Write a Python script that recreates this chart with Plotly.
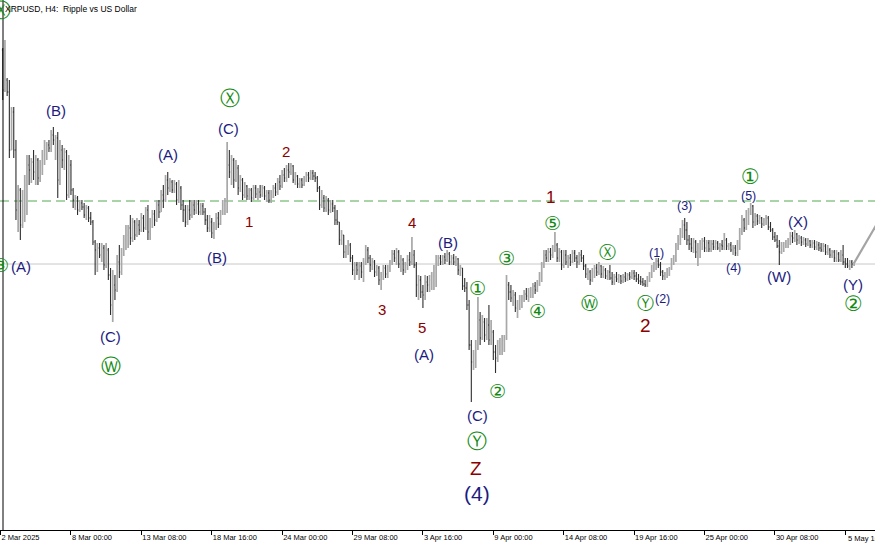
import pandas as pd
import plotly.graph_objects as go

# bar 0 of the H4 chart is 2 Mar 2025 16:00, bars every 4 hours
t0 = pd.Timestamp("2025-03-02 16:00")

opens = [
    3.000, 2.840, 2.880, 2.832, 2.600, 2.752, 2.600, 2.360, 2.440, 2.300,
    2.400, 2.460, 2.540, 2.520, 2.552, 2.512, 2.560, 2.488, 2.540, 2.580,
    2.600, 2.620, 2.608, 2.660, 2.640, 2.648, 2.480, 2.600, 2.560, 2.592,
    2.420, 2.540, 2.440, 2.400, 2.408, 2.360, 2.388, 2.372, 2.340, 2.368,
    2.328, 2.312, 2.232, 2.200, 2.208, 2.180, 2.208, 2.140, 2.200, 2.100,
    1.980, 2.060, 2.040, 2.152, 2.112, 2.192, 2.240, 2.260, 2.288, 2.248,
    2.312, 2.260, 2.300, 2.280, 2.328, 2.288, 2.360, 2.272, 2.312, 2.344,
    2.320, 2.380, 2.352, 2.420, 2.400, 2.480, 2.448, 2.472, 2.440, 2.464,
    2.400, 2.448, 2.380, 2.360, 2.312, 2.360, 2.340, 2.380, 2.360, 2.384,
    2.352, 2.376, 2.352, 2.320, 2.288, 2.312, 2.268, 2.288, 2.328, 2.304,
    2.352, 2.380, 2.400, 2.540, 2.512, 2.560, 2.480, 2.528, 2.448, 2.480,
    2.420, 2.456, 2.416, 2.440, 2.408, 2.448, 2.424, 2.432, 2.420, 2.448,
    2.416, 2.428, 2.400, 2.424, 2.448, 2.432, 2.472, 2.456, 2.500, 2.488,
    2.520, 2.512, 2.536, 2.480, 2.496, 2.464, 2.480, 2.460, 2.484, 2.500,
    2.488, 2.508, 2.496, 2.488, 2.448, 2.380, 2.408, 2.368, 2.400, 2.360,
    2.384, 2.368, 2.320, 2.312, 2.240, 2.260, 2.192, 2.208, 2.220, 2.168,
    2.120, 2.140, 2.120, 2.136, 2.112, 2.152, 2.200, 2.168, 2.140, 2.152,
    2.112, 2.128, 2.080, 2.096, 2.128, 2.104, 2.128, 2.152, 2.184, 2.168,
    2.192, 2.144, 2.160, 2.120, 2.140, 2.160, 2.152, 2.180, 2.140, 2.060,
    2.080, 2.032, 2.020, 2.072, 2.060, 2.080, 2.096, 2.128, 2.152, 2.168,
    2.152, 2.172, 2.160, 2.184, 2.152, 2.168, 2.152, 2.164, 2.120, 2.128,
    2.056, 2.048, 1.980, 1.820, 1.752, 1.780, 1.820, 1.920, 1.848, 1.912,
    1.860, 1.900, 1.840, 1.872, 1.792, 1.768, 1.808, 1.820, 1.840, 1.848,
    2.060, 2.032, 2.008, 2.020, 1.968, 1.980, 2.000, 2.008, 2.024, 2.016,
    2.032, 2.040, 2.056, 2.040, 2.064, 2.096, 2.140, 2.180, 2.168, 2.192,
    2.180, 2.208, 2.220, 2.168, 2.192, 2.140, 2.180, 2.152, 2.168, 2.152,
    2.188, 2.168, 2.152, 2.180, 2.168, 2.136, 2.104, 2.112, 2.080, 2.112,
    2.128, 2.112, 2.136, 2.104, 2.120, 2.096, 2.112, 2.088, 2.072, 2.092,
    2.084, 2.096, 2.076, 2.092, 2.084, 2.100, 2.092, 2.108, 2.096, 2.084,
    2.076, 2.072, 2.064, 2.060, 2.084, 2.104, 2.128, 2.144, 2.156, 2.140,
    2.112, 2.096, 2.104, 2.120, 2.128, 2.152, 2.168, 2.216, 2.240, 2.272,
    2.300, 2.280, 2.240, 2.224, 2.208, 2.232, 2.192, 2.208, 2.224, 2.236,
    2.208, 2.228, 2.204, 2.224, 2.212, 2.228, 2.208, 2.220, 2.216, 2.240,
    2.216, 2.220, 2.200, 2.208, 2.188, 2.224, 2.272, 2.320, 2.288, 2.344,
    2.352, 2.376, 2.312, 2.336, 2.316, 2.328, 2.304, 2.320, 2.328, 2.292,
    2.280, 2.252, 2.240, 2.216, 2.192, 2.216, 2.224, 2.228, 2.240, 2.256,
    2.248, 2.264, 2.240, 2.248, 2.232, 2.240, 2.224, 2.236, 2.220, 2.228,
    2.212, 2.220, 2.208, 2.200, 2.216, 2.192, 2.200, 2.180, 2.192, 2.168,
    2.184, 2.160, 2.180, 2.152, 2.144, 2.136, 2.152, 2.144,
]

highs = [
    3.008, 3.040, 2.888, 2.880, 2.772, 2.772, 2.640, 2.460, 2.448, 2.440,
    2.500, 2.580, 2.580, 2.568, 2.600, 2.580, 2.568, 2.560, 2.600, 2.640,
    2.632, 2.640, 2.680, 2.692, 2.660, 2.672, 2.640, 2.620, 2.608, 2.600,
    2.580, 2.560, 2.448, 2.420, 2.416, 2.400, 2.400, 2.388, 2.380, 2.376,
    2.352, 2.320, 2.240, 2.228, 2.228, 2.228, 2.220, 2.228, 2.208, 2.128,
    2.120, 2.100, 2.180, 2.220, 2.208, 2.260, 2.300, 2.300, 2.340, 2.328,
    2.320, 2.328, 2.320, 2.348, 2.340, 2.372, 2.380, 2.328, 2.360, 2.360,
    2.400, 2.400, 2.440, 2.460, 2.500, 2.512, 2.488, 2.480, 2.480, 2.472,
    2.480, 2.456, 2.400, 2.380, 2.380, 2.400, 2.400, 2.400, 2.400, 2.400,
    2.388, 2.388, 2.368, 2.340, 2.340, 2.328, 2.312, 2.348, 2.352, 2.360,
    2.400, 2.408, 2.632, 2.600, 2.580, 2.568, 2.560, 2.540, 2.500, 2.488,
    2.472, 2.460, 2.448, 2.448, 2.460, 2.460, 2.448, 2.460, 2.460, 2.456,
    2.440, 2.440, 2.440, 2.460, 2.468, 2.488, 2.500, 2.520, 2.528, 2.540,
    2.548, 2.548, 2.540, 2.512, 2.500, 2.488, 2.488, 2.496, 2.512, 2.512,
    2.520, 2.520, 2.512, 2.496, 2.456, 2.440, 2.420, 2.416, 2.408, 2.400,
    2.400, 2.380, 2.360, 2.312, 2.280, 2.260, 2.220, 2.240, 2.228, 2.180,
    2.152, 2.152, 2.152, 2.152, 2.168, 2.220, 2.212, 2.180, 2.168, 2.160,
    2.140, 2.136, 2.112, 2.140, 2.140, 2.140, 2.160, 2.200, 2.200, 2.208,
    2.200, 2.180, 2.168, 2.152, 2.180, 2.192, 2.252, 2.200, 2.152, 2.100,
    2.096, 2.060, 2.100, 2.096, 2.100, 2.112, 2.140, 2.180, 2.180, 2.180,
    2.180, 2.188, 2.200, 2.192, 2.180, 2.184, 2.176, 2.168, 2.140, 2.128,
    2.088, 2.072, 2.000, 1.840, 1.800, 1.840, 2.012, 1.952, 1.940, 1.928,
    1.928, 1.980, 1.920, 1.880, 1.820, 1.840, 1.848, 1.860, 1.860, 2.100,
    2.072, 2.060, 2.040, 2.032, 2.000, 2.020, 2.020, 2.040, 2.048, 2.048,
    2.052, 2.068, 2.072, 2.080, 2.112, 2.152, 2.200, 2.200, 2.208, 2.208,
    2.220, 2.272, 2.228, 2.208, 2.200, 2.200, 2.200, 2.180, 2.184, 2.200,
    2.200, 2.180, 2.192, 2.200, 2.180, 2.144, 2.128, 2.120, 2.128, 2.140,
    2.144, 2.152, 2.140, 2.136, 2.128, 2.120, 2.140, 2.112, 2.104, 2.112,
    2.104, 2.100, 2.104, 2.112, 2.108, 2.112, 2.120, 2.120, 2.112, 2.104,
    2.096, 2.088, 2.080, 2.096, 2.112, 2.140, 2.152, 2.168, 2.168, 2.152,
    2.120, 2.112, 2.128, 2.132, 2.168, 2.180, 2.228, 2.260, 2.288, 2.320,
    2.328, 2.312, 2.260, 2.248, 2.248, 2.240, 2.228, 2.240, 2.248, 2.252,
    2.240, 2.240, 2.240, 2.240, 2.240, 2.236, 2.228, 2.240, 2.268, 2.248,
    2.228, 2.232, 2.220, 2.220, 2.240, 2.288, 2.340, 2.328, 2.360, 2.368,
    2.388, 2.380, 2.348, 2.344, 2.340, 2.332, 2.328, 2.340, 2.336, 2.312,
    2.288, 2.272, 2.260, 2.240, 2.232, 2.232, 2.240, 2.248, 2.272, 2.272,
    2.280, 2.268, 2.260, 2.256, 2.252, 2.248, 2.248, 2.240, 2.240, 2.240,
    2.236, 2.232, 2.228, 2.228, 2.224, 2.220, 2.208, 2.200, 2.200, 2.200,
    2.192, 2.200, 2.220, 2.168, 2.168, 2.160, 2.160, 2.152,
]

lows = [
    2.800, 2.832, 2.816, 2.568, 2.600, 2.568, 2.320, 2.272, 2.240, 2.288,
    2.312, 2.340, 2.460, 2.468, 2.480, 2.460, 2.460, 2.472, 2.500, 2.540,
    2.560, 2.592, 2.592, 2.620, 2.560, 2.408, 2.460, 2.528, 2.520, 2.400,
    2.408, 2.420, 2.368, 2.360, 2.340, 2.352, 2.360, 2.328, 2.320, 2.312,
    2.300, 2.220, 2.100, 2.112, 2.168, 2.152, 2.120, 2.128, 2.080, 1.940,
    1.912, 2.000, 2.032, 2.088, 2.100, 2.176, 2.200, 2.208, 2.220, 2.232,
    2.240, 2.252, 2.260, 2.272, 2.272, 2.280, 2.240, 2.240, 2.288, 2.296,
    2.312, 2.328, 2.352, 2.368, 2.392, 2.420, 2.432, 2.428, 2.428, 2.380,
    2.388, 2.360, 2.312, 2.292, 2.300, 2.320, 2.328, 2.340, 2.344, 2.340,
    2.340, 2.340, 2.300, 2.272, 2.272, 2.248, 2.244, 2.280, 2.288, 2.300,
    2.340, 2.340, 2.348, 2.488, 2.460, 2.448, 2.472, 2.420, 2.432, 2.400,
    2.408, 2.400, 2.400, 2.392, 2.400, 2.408, 2.400, 2.408, 2.412, 2.400,
    2.392, 2.388, 2.388, 2.408, 2.416, 2.420, 2.440, 2.448, 2.472, 2.472,
    2.488, 2.500, 2.468, 2.460, 2.448, 2.448, 2.448, 2.456, 2.472, 2.472,
    2.480, 2.480, 2.472, 2.432, 2.360, 2.368, 2.352, 2.352, 2.340, 2.348,
    2.352, 2.300, 2.300, 2.220, 2.220, 2.168, 2.168, 2.180, 2.152, 2.100,
    2.080, 2.100, 2.080, 2.088, 2.072, 2.140, 2.148, 2.112, 2.120, 2.092,
    2.096, 2.060, 2.040, 2.080, 2.088, 2.088, 2.112, 2.140, 2.152, 2.140,
    2.128, 2.112, 2.100, 2.108, 2.120, 2.136, 2.140, 2.128, 2.012, 2.000,
    2.008, 1.968, 2.000, 2.032, 2.032, 2.040, 2.040, 2.052, 2.136, 2.140,
    2.140, 2.144, 2.152, 2.140, 2.140, 2.140, 2.136, 2.100, 2.096, 2.040,
    2.032, 1.960, 1.800, 1.592, 1.720, 1.728, 1.800, 1.820, 1.840, 1.832,
    1.840, 1.820, 1.820, 1.760, 1.708, 1.752, 1.780, 1.780, 1.792, 1.840,
    2.000, 1.992, 1.976, 1.952, 1.928, 1.960, 1.968, 1.992, 2.000, 1.992,
    2.008, 2.008, 2.024, 2.032, 2.056, 2.072, 2.128, 2.152, 2.152, 2.160,
    2.168, 2.192, 2.152, 2.152, 2.120, 2.128, 2.140, 2.128, 2.136, 2.148,
    2.152, 2.128, 2.140, 2.152, 2.120, 2.088, 2.080, 2.060, 2.072, 2.088,
    2.096, 2.100, 2.088, 2.088, 2.084, 2.080, 2.080, 2.060, 2.060, 2.072,
    2.068, 2.064, 2.068, 2.072, 2.076, 2.080, 2.084, 2.080, 2.072, 2.064,
    2.060, 2.056, 2.052, 2.052, 2.072, 2.088, 2.112, 2.120, 2.128, 2.096,
    2.080, 2.080, 2.088, 2.096, 2.120, 2.140, 2.152, 2.200, 2.220, 2.248,
    2.240, 2.220, 2.200, 2.192, 2.188, 2.168, 2.136, 2.168, 2.200, 2.192,
    2.192, 2.192, 2.192, 2.200, 2.200, 2.200, 2.192, 2.200, 2.200, 2.200,
    2.200, 2.192, 2.180, 2.176, 2.176, 2.200, 2.260, 2.272, 2.280, 2.300,
    2.340, 2.288, 2.296, 2.300, 2.304, 2.288, 2.296, 2.300, 2.280, 2.272,
    2.240, 2.232, 2.208, 2.140, 2.184, 2.192, 2.208, 2.208, 2.220, 2.228,
    2.232, 2.220, 2.224, 2.216, 2.220, 2.212, 2.216, 2.208, 2.208, 2.200,
    2.200, 2.196, 2.192, 2.192, 2.180, 2.180, 2.168, 2.168, 2.152, 2.152,
    2.152, 2.152, 2.140, 2.128, 2.128, 2.120, 2.128, 2.136,
]

closes = [
    2.840, 2.880, 2.832, 2.600, 2.752, 2.600, 2.360, 2.440, 2.300, 2.400,
    2.460, 2.540, 2.520, 2.552, 2.512, 2.560, 2.488, 2.540, 2.580, 2.600,
    2.620, 2.608, 2.660, 2.640, 2.648, 2.480, 2.600, 2.560, 2.592, 2.420,
    2.540, 2.440, 2.400, 2.408, 2.360, 2.388, 2.372, 2.340, 2.368, 2.328,
    2.312, 2.232, 2.200, 2.208, 2.180, 2.208, 2.140, 2.200, 2.100, 1.980,
    2.060, 2.040, 2.152, 2.112, 2.192, 2.240, 2.260, 2.288, 2.248, 2.312,
    2.260, 2.300, 2.280, 2.328, 2.288, 2.360, 2.272, 2.312, 2.344, 2.320,
    2.380, 2.352, 2.420, 2.400, 2.480, 2.448, 2.472, 2.440, 2.464, 2.400,
    2.448, 2.380, 2.360, 2.312, 2.360, 2.340, 2.380, 2.360, 2.384, 2.352,
    2.376, 2.352, 2.320, 2.288, 2.312, 2.268, 2.288, 2.328, 2.304, 2.352,
    2.380, 2.400, 2.540, 2.512, 2.560, 2.480, 2.528, 2.448, 2.480, 2.420,
    2.456, 2.416, 2.440, 2.408, 2.448, 2.424, 2.432, 2.420, 2.448, 2.416,
    2.428, 2.400, 2.424, 2.448, 2.432, 2.472, 2.456, 2.500, 2.488, 2.520,
    2.512, 2.536, 2.480, 2.496, 2.464, 2.480, 2.460, 2.484, 2.500, 2.488,
    2.508, 2.496, 2.488, 2.448, 2.380, 2.408, 2.368, 2.400, 2.360, 2.384,
    2.368, 2.320, 2.312, 2.240, 2.260, 2.192, 2.208, 2.220, 2.168, 2.120,
    2.140, 2.120, 2.136, 2.112, 2.152, 2.200, 2.168, 2.140, 2.152, 2.112,
    2.128, 2.080, 2.096, 2.128, 2.104, 2.128, 2.152, 2.184, 2.168, 2.192,
    2.144, 2.160, 2.120, 2.140, 2.160, 2.152, 2.180, 2.140, 2.060, 2.080,
    2.032, 2.020, 2.072, 2.060, 2.080, 2.096, 2.128, 2.152, 2.168, 2.152,
    2.172, 2.160, 2.184, 2.152, 2.168, 2.152, 2.164, 2.120, 2.128, 2.056,
    2.048, 1.980, 1.820, 1.752, 1.780, 1.820, 1.920, 1.848, 1.912, 1.860,
    1.900, 1.840, 1.872, 1.792, 1.768, 1.808, 1.820, 1.840, 1.848, 2.060,
    2.032, 2.008, 2.020, 1.968, 1.980, 2.000, 2.008, 2.024, 2.016, 2.032,
    2.040, 2.056, 2.040, 2.064, 2.096, 2.140, 2.180, 2.168, 2.192, 2.180,
    2.208, 2.220, 2.168, 2.192, 2.140, 2.180, 2.152, 2.168, 2.152, 2.188,
    2.168, 2.152, 2.180, 2.168, 2.136, 2.104, 2.112, 2.080, 2.112, 2.128,
    2.112, 2.136, 2.104, 2.120, 2.096, 2.112, 2.088, 2.072, 2.092, 2.084,
    2.096, 2.076, 2.092, 2.084, 2.100, 2.092, 2.108, 2.096, 2.084, 2.076,
    2.072, 2.064, 2.060, 2.084, 2.104, 2.128, 2.144, 2.156, 2.140, 2.112,
    2.096, 2.104, 2.120, 2.128, 2.152, 2.168, 2.216, 2.240, 2.272, 2.300,
    2.280, 2.240, 2.224, 2.208, 2.232, 2.192, 2.208, 2.224, 2.236, 2.208,
    2.228, 2.204, 2.224, 2.212, 2.228, 2.208, 2.220, 2.216, 2.240, 2.216,
    2.220, 2.200, 2.208, 2.188, 2.224, 2.272, 2.320, 2.288, 2.344, 2.352,
    2.376, 2.312, 2.336, 2.316, 2.328, 2.304, 2.320, 2.328, 2.292, 2.280,
    2.252, 2.240, 2.216, 2.192, 2.216, 2.224, 2.228, 2.240, 2.256, 2.248,
    2.264, 2.240, 2.248, 2.232, 2.240, 2.224, 2.236, 2.220, 2.228, 2.212,
    2.220, 2.208, 2.200, 2.216, 2.192, 2.200, 2.180, 2.192, 2.168, 2.184,
    2.160, 2.180, 2.152, 2.144, 2.136, 2.152, 2.144, 2.148,
]

tick_bars = [0, 32, 64, 96, 128, 160, 192, 224, 256, 288, 320, 352, 384]
tick_labels = ["2 Mar 2025", "8 Mar 00:00", "13 Mar 08:00", "18 Mar 16:00",
               "24 Mar 00:00", "29 Mar 08:00", "3 Apr 16:00", "9 Apr 00:00",
               "14 Apr 08:00", "19 Apr 16:00", "25 Apr 00:00", "30 Apr 08:00",
               "5 May 16:00"]

price_line = 2.144     # grey horizontal level
dashed_level = 2.396   # green dashed level

proj_bars = [388, 420]
proj_prices = [2.148, 2.632]

# wave marks: text, bar index, price, style
wave_text = ["Ⓧ", "③", "(A)", "(B)", "(C)", "Ⓦ", "(A)", "(C)", "Ⓧ", "(B)",
             "1", "2", "3", "4", "5", "(A)", "(B)", "①", "②", "③", "④", "⑤",
             "(C)", "Ⓨ", "Z", "(4)", "1", "Ⓦ", "Ⓧ", "Ⓨ", "2",
             "(1)", "(2)", "(3)", "(4)", "(5)", "①", "(W)", "(X)", "(Y)", "②"]
wave_bar = [0.2, 0.2, 9.3, 25.2, 50.2, 50.2, 76.1, 103.4, 104.3, 98.4,
            113.0, 129.8, 173.4, 187.0, 191.6, 192.5, 203.4, 216.6, 225.7, 229.8, 244.3, 250.7,
            216.6, 216.6, 216.1, 216.6, 249.8, 267.5, 275.7, 293.4, 293.0,
            298.4, 301.1, 311.1, 333.4, 340.2, 340.7, 353.8, 362.5, 387.5, 387.5]
wave_price = [3.160, 2.140, 2.136, 2.760, 1.856, 1.736, 2.584, 2.688, 2.808, 2.172,
              2.316, 2.596, 1.964, 2.312, 1.892, 1.784, 2.232, 2.048, 1.636, 2.168, 1.956, 2.308,
              1.540, 1.436, 1.328, 1.228, 2.412, 1.988, 2.192, 1.988, 1.900,
              2.188, 2.004, 2.376, 2.128, 2.416, 2.492, 2.096, 2.316, 2.064, 1.984]
wave_style = ["gl", "g", "n", "n", "n", "gl", "n", "n", "gl", "n",
              "r", "r", "r", "r", "r", "n", "n", "g", "g", "g", "g", "g",
              "n", "gl", "rb", "nb", "rm", "gs", "gs", "gs", "rb",
              "ns", "ns", "ns", "ns", "ns", "gb", "n", "n", "n", "gb"]

NAVY = "#1c1c80"
RED = "#8b0000"
GREEN = "#128a12"
styles = {
    "n": dict(color=NAVY, size=15, family="Liberation Sans"),
    "ns": dict(color=NAVY, size=12.5, family="Liberation Sans"),
    "nb": dict(color=NAVY, size=21, family="Liberation Sans"),
    "r": dict(color=RED, size=15, family="Liberation Sans"),
    "rm": dict(color=RED, size=17, family="Liberation Sans"),
    "rb": dict(color=RED, size=19, family="Liberation Sans"),
    "g": dict(color=GREEN, size=19, family="DejaVu Sans"),
    "gb": dict(color=GREEN, size=21, family="DejaVu Sans"),
    "gs": dict(color=GREEN, size=17, family="DejaVu Sans"),
    "gl": dict(color=GREEN, size=20, family="DejaVu Sans"),
}
AXIS_FONT = dict(size=7.5, color="#000000", family="Liberation Sans")


def bar_time(b):
    return t0 + pd.Timedelta(hours=4 * b)


x = [bar_time(i + 1) for i in range(len(closes))]

fig = go.Figure()
fig.add_trace(go.Ohlc(
    x=x, open=opens, high=highs, low=lows, close=closes,
    increasing=dict(line=dict(color="#a8a8a8", width=1.7)),
    decreasing=dict(line=dict(color="#2e2e2e", width=1.1)),
    tickwidth=0.4, hoverinfo="skip", showlegend=False))

fig.add_trace(go.Scatter(
    x=[bar_time(b) for b in proj_bars], y=proj_prices, mode="lines",
    line=dict(color="#a4a4a4", width=2.2), hoverinfo="skip", showlegend=False))

fig.add_shape(type="line", xref="paper", x0=0, x1=1, y0=price_line, y1=price_line,
              line=dict(color="#c8c8c8", width=1), layer="below")
fig.add_shape(type="line", xref="paper", x0=0, x1=1, y0=dashed_level, y1=dashed_level,
              line=dict(color="#8cc68c", width=1.5, dash="9px,5px"), layer="below")
# left frame of the chart window
fig.add_shape(type="line", xref="paper", yref="paper", x0=3 / 875, x1=3 / 875, y0=0, y1=1,
              line=dict(color="#000000", width=1))

for t, b, p, s in zip(wave_text, wave_bar, wave_price, wave_style):
    fig.add_annotation(x=bar_time(b), y=p, text=t, showarrow=False,
                       font=styles[s], xanchor="center", yanchor="middle")

fig.add_annotation(xref="paper", yref="paper", x=3 / 875, y=1 - 9 / 530,
                   text="XRPUSD, H4:  Ripple vs US Dollar", showarrow=False,
                   xanchor="left", yanchor="middle",
                   font=dict(size=8.5, color="#000000", family="Liberation Sans"))

# the last date label runs past the right edge, so it is placed by hand
fig.add_annotation(x=bar_time(tick_bars[-1]), yref="paper", y=0, yshift=-2,
                   text=tick_labels[-1], showarrow=False,
                   xanchor="left", yanchor="top", xshift=1, font=AXIS_FONT)

fig.update_layout(
    width=875, height=545,
    margin=dict(l=0, r=0, t=0, b=15),
    paper_bgcolor="white", plot_bgcolor="white",
    showlegend=False,
    xaxis=dict(
        type="date",
        range=[bar_time(-0.25), bar_time(397.5)],
        tickvals=[bar_time(b) for b in tick_bars],
        ticktext=tick_labels[:-1] + [""],
        ticks="outside", ticklen=4, tickcolor="#000000",
        ticklabelposition="outside right",
        tickfont=AXIS_FONT,
        showgrid=False, zeroline=False,
        showline=True, linecolor="#000000", linewidth=1,
        rangeslider=dict(visible=False),
    ),
    yaxis=dict(
        range=[1.08, 3.2],
        showticklabels=False, showgrid=False, zeroline=False, ticks="",
    ),
)

# drop the page's default body margin so the chart sits at the window corner
fig.write_html("out.html", config={"displayModeBar": False},
               post_script="document.body.style.margin='0';")
